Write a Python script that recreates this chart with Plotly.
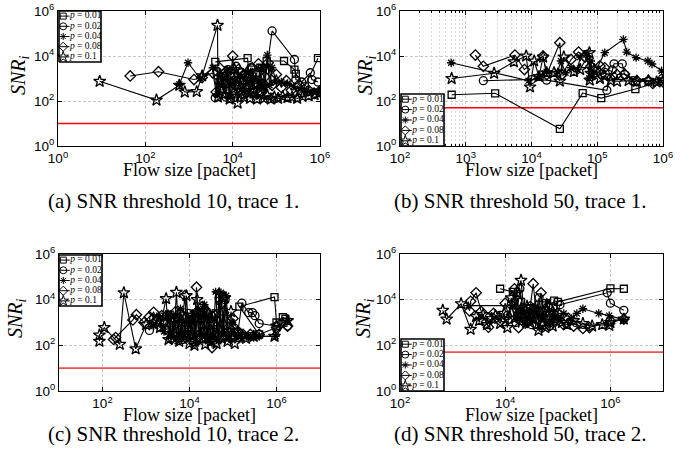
import plotly.graph_objects as go

W, H = 694, 466

# Loss probabilities shown in every panel
P_LABELS = ["0.01", "0.02", "0.04", "0.08", "0.1"]
SYMBOLS = ["square-open", "circle-open", "asterisk-open", "diamond-open", "star-open"]
SIZES = [7, 8, 7, 8, 9]

# SNR thresholds (red lines) and tick decades
THRESHOLDS = [10, 50, 10, 50]
Y_TICK_EXP = [0, 2, 4, 6]
X_TICK_EXP = [[0, 2, 4, 6], [2, 3, 4, 5, 6], [2, 4, 6], [2, 4, 6]]
X_RANGE_EXP = [[0, 6], [2, 6], [1, 7], [2, 7]]
CAPTIONS = [
    "(a) SNR threshold 10, trace 1.",
    "(b) SNR threshold 50, trace 1.",
    "(c) SNR threshold 10, trace 2.",
    "(d) SNR threshold 50, trace 2.",
]

# ---------------- (a) threshold 10, trace 1 ----------------
A_X_P01 = [4.0e3, 2.2e4, 2.4e4, 2.7e4, 3.0e4, 3.4e4, 3.8e4, 4.3e4, 5.0e4, 6.0e4, 1.5e5, 2.6e5, 2.8e5, 4.5e5, 9.0e5]
A_Y_P01 = [5.5e3, 8.0e3, 5.0e2, 2.5e3, 3.0e2, 1.8e3, 6.0e2, 3.0e3, 4.0e2, 6.0e3, 6.0e3, 2.5e3, 1.6e3, 4.5e2, 8.0e3]

A_X_P02 = [4.0e3, 4.5e3, 5.2e3, 6.0e3, 7.0e3, 8.0e3, 9.0e3, 1.05e4, 1.2e4, 1.4e4, 1.6e4, 1.9e4, 2.2e4, 2.6e4,
           3.0e4, 3.5e4, 4.2e4, 5.0e4, 6.0e4, 8.0e4, 2.6e5, 2.8e5, 3.8e5, 6.0e5, 6.5e5, 9.0e5]
A_Y_P02 = [1.4e2, 2.0e3, 3.0e2, 1.2e3, 1.5e2, 2.5e3, 1.3e2, 8.0e2, 3.5e3, 4.0e2, 1.8e3, 2.0e2, 1.0e3, 3.0e3,
           5.0e2, 1.5e3, 2.5e2, 6.0e2, 2.5e3, 1.3e5, 7.0e3, 9.0e2, 7.0e2, 1.8e3, 9.0e2, 7.0e2]

A_X_P04 = [6.0e2, 9.5e2, 1.8e3, 3.5e3, 4.5e3, 5.5e3, 6.5e3, 7.5e3, 9.0e3, 1.05e4, 1.25e4, 1.45e4, 1.7e4, 2.0e4,
           2.4e4, 2.9e4, 3.4e4, 4.0e4, 4.8e4, 5.5e4, 6.2e4, 7.0e4, 8.0e4, 1.0e5, 1.3e5, 1.8e5, 2.5e5, 3.5e5,
           5.0e5, 7.0e5, 1.0e6]
A_Y_P04 = [5.5e2, 5.0e3, 1.0e3, 3.0e3, 2.0e2, 1.5e3, 4.0e2, 2.5e3, 1.5e2, 7.0e2, 2.0e2, 1.2e3, 3.5e2, 2.0e3,
           2.5e2, 1.0e3, 1.8e2, 6.0e2, 3.0e3, 4.0e2, 1.1e4, 5.0e2, 3.0e3, 7.0e2, 7.0e2, 6.0e2, 4.5e2, 3.5e2,
           3.0e2, 2.6e2, 2.5e2]

A_X_P08 = [4.5e1, 2.0e2, 1.3e3, 2.0e3, 3.5e3, 4.2e3, 5.0e3, 6.0e3, 7.0e3, 8.5e3, 1.0e4, 1.15e4, 1.35e4, 1.6e4,
           1.9e4, 2.3e4, 2.8e4, 3.3e4, 3.9e4, 4.6e4, 5.5e4, 6.5e4, 8.0e4, 1.0e5, 1.3e5, 1.7e5, 2.2e5, 3.0e5,
           4.0e5, 5.5e5, 7.5e5, 9.5e5]
A_Y_P08 = [1.3e3, 2.0e3, 9.0e2, 1.1e3, 1.8e3, 2.5e2, 3.0e3, 6.0e2, 2.0e3, 3.0e2, 1.0e4, 5.0e2, 2.5e3, 2.0e2,
           1.5e3, 4.0e2, 3.0e3, 7.0e2, 4.5e3, 2.5e2, 1.2e3, 5.0e3, 5.0e2, 1.5e3, 4.0e2, 8.0e2, 3.0e2, 4.5e2,
           2.5e2, 3.0e2, 2.2e2, 2.6e2]

A_X_P10 = [9.0e0, 1.8e2, 6.0e2, 8.0e2, 1.5e3, 2.0e3, 4.5e3, 4.6e3, 5.5e3, 6.5e3, 7.5e3, 8.5e3, 9.5e3, 1.1e4,
           1.3e4, 1.5e4, 1.8e4, 2.1e4, 2.5e4, 3.0e4, 3.6e4, 4.3e4, 5.2e4, 6.2e4, 7.5e4, 9.0e4, 1.1e5, 1.4e5,
           1.8e5, 2.3e5, 3.0e5, 4.0e5, 5.5e5, 7.5e5, 9.5e5]
A_Y_P10 = [7.5e2, 1.1e2, 5.0e2, 2.5e2, 2.6e2, 1.3e3, 2.3e5, 1.5e2, 8.0e2, 2.0e2, 1.5e3, 1.2e2, 6.0e2, 2.5e3,
           8.0e1, 5.0e2, 1.5e2, 1.2e3, 1.3e2, 3.0e2, 1.2e2, 2.0e2, 1.3e2, 1.8e2, 1.2e2, 1.5e2, 1.3e2, 1.6e2,
           1.4e2, 1.5e2, 1.3e2, 1.6e2, 1.7e2, 1.9e2, 2.2e2]

# ---------------- (b) threshold 50, trace 1 ----------------
B_X_P01 = [6.1e2, 2.8e3, 2.7e4, 6.0e4, 1.15e5, 3.8e5, 9.5e5]
B_Y_P01 = [1.9e2, 2.2e2, 5.8e0, 2.25e2, 1.35e2, 3.4e2, 7.5e2]

B_X_P02 = [1.85e3, 1.0e4, 1.7e4, 1.4e5, 1.7e5, 1.8e5, 2.4e5, 2.6e5, 3.5e5, 6.0e5, 9.8e5]
B_Y_P02 = [8.0e2, 9.0e2, 8.5e2, 3.0e2, 2.4e3, 4.5e3, 4.5e3, 1.5e3, 8.0e2, 7.5e2, 1.0e3]

B_X_P04 = [6.0e2, 9.0e3, 1.3e4, 1.7e4, 2.5e4, 2.8e4, 3.3e4, 4.0e4, 5.0e4, 5.5e4, 7.0e4, 7.5e4, 8.0e4, 8.5e4,
           1.3e5, 2.5e5, 2.8e5, 3.9e5, 5.9e5, 6.8e5, 9.5e5]
B_Y_P04 = [5.0e3, 8.0e2, 1.2e3, 2.0e3, 2.0e3, 6.0e3, 1.8e3, 3.0e3, 2.5e3, 9.0e3, 1.3e4, 1.0e3, 6.0e3, 1.2e3,
           1.4e4, 5.5e4, 1.5e4, 8.5e3, 6.0e3, 4.4e3, 2.2e3]

B_X_P08 = [1.4e3, 1.85e3, 5.6e3, 7.8e3, 1.5e4, 1.7e4, 2.7e4, 2.9e4, 4.0e4, 5.2e4, 6.5e4, 8.0e4, 1.1e5, 1.15e5,
           1.3e5, 2.0e5, 2.6e5, 4.0e5, 6.0e5, 7.0e5, 1.0e6]
B_Y_P08 = [1.1e4, 3.5e3, 1.1e4, 2.5e3, 1.0e4, 1.5e3, 3.9e4, 1.5e3, 7.0e3, 1.5e4, 9.0e3, 3.5e3, 3.6e3, 1.5e3,
           3.0e3, 1.5e3, 1.6e3, 8.0e2, 8.0e2, 6.0e2, 7.0e2]

B_X_P10 = [6.1e2, 2.7e3, 5.4e3, 8.3e3, 9.5e3, 1.1e4, 1.3e4, 1.5e4, 1.7e4, 2.2e4, 2.7e4, 3.1e4, 4.4e4, 5.5e4,
           7.6e4, 7.7e4, 8.0e4, 9.0e4, 1.1e5, 1.3e5, 1.6e5, 2.0e5, 3.0e5, 4.0e5, 6.0e5, 8.0e5, 1.0e6]
B_Y_P10 = [1.0e3, 1.7e3, 5.5e3, 1.0e4, 4.2e2, 6.0e3, 1.2e3, 9.0e3, 1.8e3, 1.8e3, 7.7e2, 9.0e3, 2.0e3, 2.5e3,
           1.4e4, 8.5e2, 1.7e3, 2.5e3, 1.0e3, 1.3e3, 8.0e2, 7.5e2, 8.0e2, 7.5e2, 8.0e2, 7.0e2, 8.0e2]

# ---------------- (c) threshold 10, trace 2 ----------------
C_X_P01 = [3.0e3, 3.5e3, 4.5e3, 5.5e3, 7.0e3, 8.5e3, 1.0e4, 1.2e4, 1.5e4, 1.8e4, 2.2e4, 2.7e4, 3.2e4, 4.0e4,
           5.0e4, 6.0e4, 7.5e4, 1.1e5, 2.5e5, 4.0e5, 1.4e5, 9.0e5, 1.0e6, 1.4e6, 1.6e6]
C_Y_P01 = [1.8e3, 2.2e3, 5.0e2, 1.5e3, 2.0e3, 3.0e2, 1.8e3, 8.0e2, 2.5e3, 1.5e3, 4.0e2, 2.0e3, 2.0e2, 2.5e3,
           5.0e2, 3.0e3, 4.0e2, 2.5e2, 2.5e2, 3.0e2, 5.0e3, 1.3e4, 1.0e3, 1.7e3, 1.45e3]

C_X_P02 = [1.2e3, 1.5e3, 2.2e3, 3.0e3, 3.6e3, 4.3e3, 5.0e3, 6.0e3, 7.0e3, 8.2e3, 9.5e3, 1.1e4, 1.3e4, 1.5e4,
           1.8e4, 2.1e4, 2.5e4, 3.0e4, 3.5e4, 4.1e4, 4.8e4, 5.6e4, 6.6e4, 7.8e4, 9.0e4, 1.05e5, 1.3e5, 1.6e5,
           2.3e5, 2.8e5, 3.2e5, 4.0e5, 1.0e6, 1.8e6]
C_Y_P02 = [4.5e2, 1.5e3, 6.0e2, 2.0e3, 2.0e2, 1.2e3, 4.0e2, 2.5e3, 1.8e2, 8.0e2, 2.5e3, 3.0e2, 1.5e3, 2.0e2,
           2.0e3, 4.0e2, 3.0e3, 1.5e2, 1.0e3, 3.0e2, 1.2e4, 2.5e2, 1.0e4, 4.0e2, 2.0e2, 6.0e2, 4.0e2, 7.0e3,
           2.7e3, 2.7e3, 2.0e3, 9.0e2, 7.0e2, 7.0e2]

C_X_P04 = [1.5e3, 2.0e3, 2.6e3, 3.2e3, 3.8e3, 4.5e3, 5.3e3, 6.2e3, 7.3e3, 8.5e3, 1.0e4, 1.2e4, 1.4e4, 1.6e4,
           1.9e4, 2.2e4, 2.6e4, 3.0e4, 3.5e4, 4.0e4, 4.6e4, 5.3e4, 6.0e4, 7.0e4, 8.0e4, 9.5e4, 1.2e5, 1.6e5,
           2.2e5, 3.0e5, 4.0e5, 9.5e5, 1.8e6]
C_Y_P04 = [7.0e2, 2.0e3, 4.0e2, 2.5e3, 2.5e2, 1.8e3, 1.5e2, 4.0e3, 3.0e2, 1.0e3, 1.8e2, 2.5e3, 1.2e2, 4.0e3,
           3.0e2, 6.0e3, 2.0e2, 1.5e3, 2.5e2, 2.2e4, 1.5e2, 2.0e4, 3.0e2, 1.5e4, 2.0e2, 1.0e3, 2.5e2, 2.0e2,
           2.5e2, 2.2e2, 2.5e2, 2.5e2, 1.2e3]

C_X_P08 = [1.8e2, 2.0e2, 5.0e2, 6.0e2, 9.0e2, 1.2e3, 1.5e3, 1.8e3, 2.3e3, 2.8e3, 3.3e3, 4.0e3, 4.8e3, 5.6e3,
           6.5e3, 7.8e3, 9.0e3, 1.05e4, 1.25e4, 1.45e4, 1.7e4, 2.0e4, 2.4e4, 2.8e4, 3.3e4, 3.9e4, 4.6e4, 5.5e4,
           6.5e4, 8.0e4, 1.0e5, 1.3e5, 1.7e5, 2.5e5, 4.0e5, 1.0e6, 1.8e6]
C_Y_P08 = [1.8e2, 2.2e2, 1.3e3, 2.2e3, 1.0e3, 1.8e3, 2.8e3, 1.2e3, 2.0e3, 5.0e2, 1.8e3, 2.0e2, 3.0e3, 1.5e3,
           3.0e2, 1.5e4, 2.5e2, 1.2e3, 1.5e2, 3.5e4, 3.0e2, 5.0e3, 2.0e2, 1.5e3, 8.0e1, 2.0e3, 3.0e2, 7.0e3,
           2.5e2, 6.0e2, 1.5e3, 4.0e2, 3.0e2, 3.0e2, 3.0e2, 6.0e2, 7.0e2]

C_X_P10 = [8.5e1, 8.5e1, 1.1e2, 2.5e2, 3.1e2, 5.8e2, 1.0e3, 1.5e3, 2.1e3, 2.9e3, 3.3e3, 3.8e3, 4.4e3, 5.0e3,
           5.8e3, 6.5e3, 7.5e3, 8.5e3, 1.0e4, 1.15e4, 1.3e4, 1.5e4, 1.7e4, 2.0e4, 2.3e4, 2.7e4, 3.1e4, 3.6e4,
           4.2e4, 4.8e4, 5.5e4, 6.5e4, 7.5e4, 9.0e4, 1.1e5, 1.4e5, 2.0e5, 3.0e5, 9.0e5, 1.0e6, 1.8e6]
C_Y_P10 = [1.5e2, 2.8e2, 6.0e2, 1.1e2, 2.0e4, 7.0e1, 8.0e2, 1.0e3, 6.0e2, 1.1e4, 1.8e2, 1.5e3, 3.0e2, 2.1e4,
           1.5e2, 1.0e3, 2.5e2, 1.5e4, 1.2e2, 2.0e3, 1.0e2, 1.0e4, 2.0e2, 3.0e3, 1.1e2, 2.5e3, 1.5e2, 8.0e2,
           1.2e2, 1.8e4, 2.0e2, 1.2e4, 1.5e2, 3.0e3, 1.2e2, 3.0e2, 2.0e2, 2.5e2, 2.5e2, 7.0e2, 1.2e3]

# ---------------- (d) threshold 50, trace 2 ----------------
D_X_P01 = [8.0e3, 1.4e4, 1.7e4, 2.0e4, 2.5e4, 3.0e4, 3.6e4, 4.3e4, 5.0e4, 6.0e4, 7.0e4, 8.5e4, 1.0e5, 1.0e6, 1.8e6]
D_Y_P01 = [3.0e4, 2.2e4, 2.0e3, 8.0e3, 1.2e3, 4.0e3, 2.0e3, 6.0e3, 1.0e3, 7.0e3, 2.5e3, 9.0e3, 8.0e3, 3.1e4, 3.0e4]

D_X_P02 = [1.1e4, 1.3e4, 1.6e4, 1.9e4, 2.3e4, 2.7e4, 3.2e4, 3.8e4, 4.4e4, 5.2e4, 6.0e4, 7.0e4, 8.2e4, 9.5e4,
           1.1e5, 8.7e5, 1.0e6, 1.8e6]
D_Y_P02 = [2.0e3, 6.0e3, 1.0e3, 3.0e4, 1.5e3, 4.0e3, 8.0e2, 2.5e3, 1.2e4, 1.0e3, 3.0e3, 7.0e2, 5.0e3, 1.5e3,
           6.0e3, 2.0e4, 7.0e3, 3.4e3]

D_X_P04 = [2.0e3, 1.5e4, 1.7e4, 2.0e4, 2.4e4, 2.8e4, 3.3e4, 3.8e4, 4.5e4, 5.3e4, 6.2e4, 7.2e4, 8.5e4, 1.0e5,
           1.3e5, 1.8e5, 2.3e5, 3.0e5, 6.0e5, 9.5e5, 1.8e6]
D_Y_P04 = [5.5e3, 5.5e3, 1.5e3, 4.0e3, 8.0e2, 3.0e3, 1.2e3, 5.0e3, 6.0e2, 2.0e3, 8.0e3, 1.0e3, 3.0e3, 1.5e3,
           2.5e3, 1.5e3, 2.5e3, 4.0e3, 2.5e3, 2.0e3, 1.3e3]

D_X_P08 = [2.1e3, 2.2e3, 2.8e3, 3.5e3, 4.8e3, 6.0e3, 8.0e3, 1.0e4, 1.2e4, 1.5e4, 1.8e4, 2.2e4, 2.6e4, 3.0e4,
           3.4e4, 4.0e4, 4.8e4, 5.5e4, 6.5e4, 8.0e4, 1.0e5, 1.3e5, 1.6e5, 2.0e5, 3.0e5, 4.0e5, 1.0e6, 1.8e6]
D_Y_P08 = [3.2e3, 8.5e3, 2.0e4, 3.0e3, 6.2e2, 2.5e3, 1.2e3, 7.0e3, 1.5e3, 3.0e4, 6.0e2, 4.0e3, 1.0e3, 5.0e3,
           5.0e4, 1.5e3, 2.0e4, 8.0e2, 5.0e3, 1.0e3, 2.5e3, 8.0e2, 1.5e3, 7.0e2, 5.5e2, 6.0e2, 1.2e3, 1.4e3]

D_X_P10 = [6.5e2, 7.7e2, 1.45e3, 2.2e3, 2.8e3, 3.2e3, 3.8e3, 4.5e3, 5.5e3, 6.5e3, 8.0e3, 9.5e3, 1.1e4, 1.3e4,
           1.5e4, 1.7e4, 2.0e4, 2.3e4, 2.6e4, 3.0e4, 3.5e4, 4.3e4, 5.0e4, 5.8e4, 6.8e4, 8.0e4, 9.5e4, 1.2e5,
           1.5e5, 2.0e5, 3.0e5, 4.5e5, 7.0e5, 9.5e5, 1.0e6, 1.8e6]
D_Y_P10 = [3.4e3, 1.4e3, 6.6e3, 5.0e2, 1.8e3, 1.2e3, 2.2e3, 8.0e2, 1.5e3, 2.0e3, 9.0e2, 2.5e3, 6.0e2, 1.2e4,
           1.5e3, 2.0e4, 7.0e4, 2.0e3, 5.0e3, 1.0e3, 3.5e3, 4.5e2, 2.5e3, 6.0e2, 1.5e3, 7.0e2, 2.0e3, 1.0e3,
           8.0e2, 1.2e3, 9.0e2, 7.0e2, 8.0e2, 7.5e2, 1.0e3, 1.4e3]

PANELS = [
    [(A_X_P01, A_Y_P01), (A_X_P02, A_Y_P02), (A_X_P04, A_Y_P04), (A_X_P08, A_Y_P08), (A_X_P10, A_Y_P10)],
    [(B_X_P01, B_Y_P01), (B_X_P02, B_Y_P02), (B_X_P04, B_Y_P04), (B_X_P08, B_Y_P08), (B_X_P10, B_Y_P10)],
    [(C_X_P01, C_Y_P01), (C_X_P02, C_Y_P02), (C_X_P04, C_Y_P04), (C_X_P08, C_Y_P08), (C_X_P10, C_Y_P10)],
    [(D_X_P01, D_Y_P01), (D_X_P02, D_Y_P02), (D_X_P04, D_Y_P04), (D_X_P08, D_Y_P08), (D_X_P10, D_Y_P10)],
]

# ---------------- layout geometry (pixels) ----------------
PLOT_BOX = [(58, 320, 11, 146), (400, 663, 11, 146), (59, 320, 254, 391), (400, 663, 254, 391)]
LEGEND_BOX = [(59, 101, 11, 62), (401, 444, 94, 146), (59, 102, 255, 306), (401, 444, 339, 391)]
LEGEND_PAD = 3
YTITLE_POS = [(19, 75), (366, 75), (16, 318), (364, 318)]
CAPTION_POS = [(173.5, 201), (520.5, 201), (173.5, 434), (520.5, 434)]

SERIF = "Liberation Serif, Times New Roman, serif"
SANS = "Liberation Sans, Arial, sans-serif"
GRID = "#c8c8c8"


def dom_x(left, right):
    return [left / W, right / W]


def dom_y(top, bottom):
    return [1 - bottom / H, 1 - top / H]


fig = go.Figure()
layout = dict(
    template="none",
    width=W, height=H, margin=dict(l=0, r=0, t=0, b=0, autoexpand=False),
    paper_bgcolor="white", plot_bgcolor="rgba(0,0,0,0)", showlegend=False,
    annotations=[],
)

for i, series in enumerate(PANELS):
    n = i + 1
    xa, ya = f"x{n}" if n > 1 else "x", f"y{n}" if n > 1 else "y"
    xkey, ykey = f"xaxis{n}" if n > 1 else "xaxis", f"yaxis{n}" if n > 1 else "yaxis"
    l, r, t, b = PLOT_BOX[i]

    xaxis = dict(
        type="log", domain=dom_x(l, r), range=X_RANGE_EXP[i], anchor=ya, automargin=False,
        tickvals=[10 ** e for e in X_TICK_EXP[i]],
        ticktext=[f"10<sup>{e}</sup>" for e in X_TICK_EXP[i]],
        tickfont=dict(family=SANS, size=13.5, color="black"),
        showline=True, linecolor="black", linewidth=1, mirror="ticks",
        ticks="inside", ticklen=4, tickcolor="black",
        showgrid=True, gridcolor=GRID, griddash="3px,2px", gridwidth=1, zeroline=False,
    )
    if i == 1:
        xaxis["minor"] = dict(
            tickvals=[k * 10 ** e for e in range(2, 6) for k in range(2, 10)],
            showgrid=True, gridcolor="#dcdcdc", griddash="2px,2px", gridwidth=1,
            ticks="inside", ticklen=2, tickcolor="black",
        )
    yaxis = dict(
        type="log", domain=dom_y(t, b), range=[0, 6], anchor=xa, automargin=False,
        tickvals=[10 ** e for e in Y_TICK_EXP],
        ticktext=[f"10<sup>{e}</sup>" for e in Y_TICK_EXP],
        tickfont=dict(family=SANS, size=13.5, color="black"),
        showline=True, linecolor="black", linewidth=1, mirror="ticks",
        ticks="inside", ticklen=4, tickcolor="black",
        showgrid=True, gridcolor=GRID, griddash="3px,2px", gridwidth=1, zeroline=False,
    )
    layout[xkey] = xaxis
    layout[ykey] = yaxis

    # SNR threshold, spanning the full x range of the panel
    fig.add_trace(go.Scatter(
        x=[10 ** X_RANGE_EXP[i][0], 10 ** X_RANGE_EXP[i][1]], y=[THRESHOLDS[i]] * 2,
        mode="lines", xaxis=xa, yaxis=ya, hoverinfo="skip",
        line=dict(color="#ff0000" if i < 2 else "#f25050", width=1.3 if i < 2 else 1.8),
    ))

    # data series
    for k, (xs, ys) in enumerate(series):
        fig.add_trace(go.Scatter(
            x=xs, y=ys, mode="lines+markers", xaxis=xa, yaxis=ya,
            name=f"p = {P_LABELS[k]}",
            line=dict(color="black", width=1.1),
            marker=dict(symbol=SYMBOLS[k], size=SIZES[k], color="black", line=dict(width=1.3, color="black")),
        ))

for i in range(4):
    # compact legend drawn on its own small axes (box inset by LEGEND_PAD pixels)
    ll, lr, lt, lb = LEGEND_BOX[i]
    m = i + 5
    lxa, lya = f"x{m}", f"y{m}"
    wx, hy = lr - ll, lb - lt
    px, py = LEGEND_PAD / wx, 5 * LEGEND_PAD / hy
    layout[f"xaxis{m}"] = dict(domain=dom_x(ll - LEGEND_PAD, lr + LEGEND_PAD), range=[-px, 1 + px],
                               anchor=lya, visible=False, fixedrange=True, automargin=False)
    layout[f"yaxis{m}"] = dict(domain=dom_y(lt - LEGEND_PAD, lb + LEGEND_PAD), range=[-py, 5 + py],
                               anchor=lxa, visible=False, fixedrange=True, automargin=False)
    fig.add_trace(go.Scatter(
        x=[0, 1, 1, 0, 0], y=[0, 0, 5, 5, 0], mode="lines", fill="toself", fillcolor="white",
        line=dict(color="black", width=1.6), xaxis=lxa, yaxis=lya, hoverinfo="skip",
    ))
    for k in range(5):
        row = 4.5 - k
        fig.add_trace(go.Scatter(
            x=[0.02, 0.25], y=[row, row], mode="lines", xaxis=lxa, yaxis=lya,
            line=dict(color="black", width=1), hoverinfo="skip",
        ))
        fig.add_trace(go.Scatter(
            x=[0.1], y=[row], mode="markers", xaxis=lxa, yaxis=lya, hoverinfo="skip",
            marker=dict(symbol=SYMBOLS[k], size=SIZES[k] - 1, color="black", line=dict(width=1, color="black")),
        ))
    fig.add_trace(go.Scatter(
        x=[0.26] * 5, y=[4.5 - k for k in range(5)], mode="text", xaxis=lxa, yaxis=lya,
        text=[f"<i>p</i> = {p}" for p in P_LABELS], textposition="middle right",
        textfont=dict(family=SERIF, size=9.5, color="black"), hoverinfo="skip",
    ))

    # axis titles and caption
    l, r, t, b = PLOT_BOX[i]
    layout["annotations"].append(dict(
        text="Flow size [packet]", xref="paper", yref="paper",
        x=(l + r) / 2 / W, y=1 - (b + 24) / H, showarrow=False,
        font=dict(family=SERIF, size=18, color="black"), xanchor="center", yanchor="middle",
    ))
    yx, yy = YTITLE_POS[i]
    layout["annotations"].append(dict(
        text="<i>SNR</i><sub><i>i</i></sub>", xref="paper", yref="paper",
        x=yx / W, y=1 - yy / H, showarrow=False, textangle=-90,
        font=dict(family=SERIF, size=20, color="black"), xanchor="center", yanchor="middle",
    ))
    cx, cy = CAPTION_POS[i]
    layout["annotations"].append(dict(
        text=CAPTIONS[i], xref="paper", yref="paper",
        x=cx / W, y=1 - cy / H, showarrow=False,
        font=dict(family=SERIF, size=21, color="black"), xanchor="center", yanchor="middle",
    ))

fig.update_layout(**layout)
fig.write_html("out.html")
